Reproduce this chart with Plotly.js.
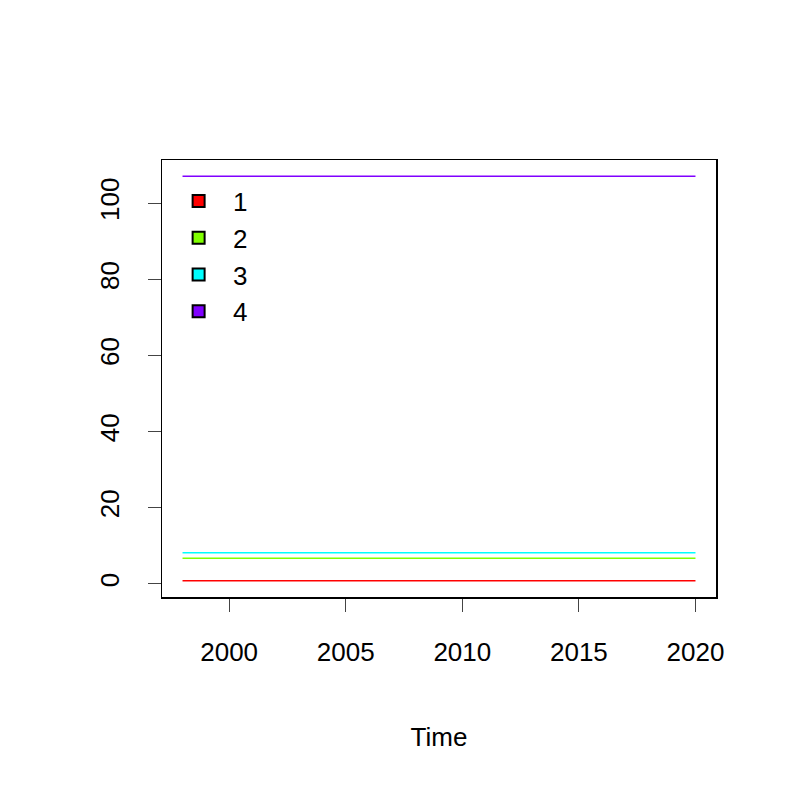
<!DOCTYPE html>
<html>
<head>
<script src="https://cdn.plot.ly/plotly-3.0.0.min.js"></script>
<style>body{margin:0;background:#fff}#chart{width:800px;height:800px}</style>
</head>
<body>
<div id="chart"></div>
<script>
// flat series, 1998..2020
const years = [];
for (let y = 1998; y <= 2020; y++) years.push(y);
const seriesNames = ['1', '2', '3', '4'];
const seriesLevels = [0.8, 6.7, 8.2, 107.1];
const seriesColors = ['#FF0000', '#80FF00', '#00FFFF', '#8000FF'];
const xTicks = [2000, 2005, 2010, 2015, 2020];
const yTicks = [0, 20, 40, 60, 80, 100];

const traces = [];
seriesNames.forEach((n, i) => {
  traces.push({
    x: years, y: years.map(() => seriesLevels[i]),
    type: 'scatter', mode: 'lines', showlegend: false,
    line: { color: seriesColors[i], width: 1.5 }, hoverinfo: 'skip'
  });
});
seriesNames.forEach((n, i) => {
  traces.push({
    x: [null], y: [null], type: 'scatter', mode: 'markers', name: '&nbsp;&nbsp;' + n,
    marker: { symbol: 'square', size: 20, color: seriesColors[i], line: { color: '#000', width: 1 } }
  });
});

const axisFont = { family: 'Liberation Sans, Arial', size: 26, color: '#000' };
const layout = {
  width: 800, height: 800,
  margin: { l: 162, r: 84, t: 160, b: 203 },
  paper_bgcolor: '#fff', plot_bgcolor: '#fff',
  font: axisFont,
  xaxis: {
    range: [1997.12, 2020.88], tickvals: xTicks, ticks: 'outside', ticklen: 13,
    tickwidth: 1, showgrid: false, zeroline: false, showline: true, mirror: true,
    linecolor: '#000', linewidth: 1.5, tickfont: axisFont, ticklabelstandoff: 18,
    title: { text: 'Time', font: axisFont, standoff: 62 }
  },
  yaxis: {
    range: [-3.45, 111.35], tickvals: yTicks, ticks: 'outside', ticklen: 13,
    tickwidth: 1, tickangle: -90, showgrid: false, zeroline: false, showline: true,
    mirror: true, linecolor: '#000', linewidth: 1.5, tickfont: axisFont, ticklabelstandoff: 18
  },
  legend: {
    x: 0.03, y: 0.96, xanchor: 'left', yanchor: 'top',
    bgcolor: 'rgba(0,0,0,0)', font: { family: 'Liberation Sans, Arial', size: 26, color: '#000' },
    itemsizing: 'constant'
  },
  showlegend: true
};

Plotly.newPlot('chart', traces, layout, { displayModeBar: false, staticPlot: true });
</script>
</body>
</html>
